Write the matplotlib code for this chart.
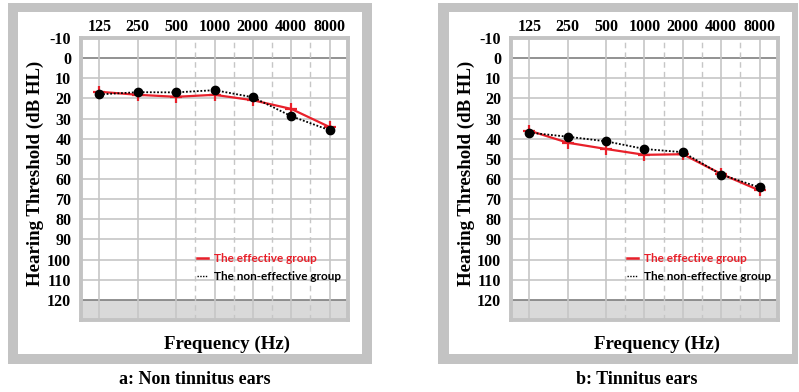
import matplotlib
matplotlib.use("Agg")
import matplotlib.pyplot as plt
from matplotlib.patches import Rectangle

freq_labels = ["125", "250", "500", "1000", "2000", "4000", "8000"]
db_ticks = [-10, 0, 10, 20, 30, 40, 50, 60, 70, 80, 90, 100, 110, 120]

a_effective = [16.7, 18.2, 19.2, 18.2, 20.9, 25.2, 34.2]
a_noneffective = [18.0, 16.9, 17.0, 15.9, 19.4, 28.8, 35.8]
b_effective = [36.0, 42.0, 45.1, 48.0, 47.7, 57.5, 65.7]
b_noneffective = [37.0, 39.0, 41.3, 45.1, 46.7, 57.8, 64.2]

W, H = 799, 392
fig = plt.figure(figsize=(W / 100, H / 100), dpi=100)
fig.patch.set_facecolor("white")

SERIF = ["Liberation Serif", "DejaVu Serif"]
SANS = ["Lato", "DejaVu Sans"]


def frect(x0, y0, x1, y1, color, z=-5):
    fig.patches.append(Rectangle((x0 / W, 1 - y1 / H), (x1 - x0) / W, (y1 - y0) / H,
                                 transform=fig.transFigure, facecolor=color,
                                 edgecolor="none", zorder=z))


def panel(x0, x1, outer, inner, eff, noneff, ylab_x, xlab_x, caption, cap_x, leg_x):
    frect(*outer, "#c3c3c3", -6)
    frect(*inner, "white", -5)
    top, bot = 38, 320
    ax = fig.add_axes([x0 / W, 1 - bot / H, (x1 - x0) / W, (bot - top) / H])
    ax.set_zorder(5)
    ax.set_facecolor("white")
    ax.set_xlim(-0.48, 6.48)
    ax.set_ylim(130, -10)
    ax.axhspan(120, 130, color="#d9d9d9", zorder=0)
    for y in db_ticks:
        c = "#7f7f7f" if y in (0, 120) else "#c6c6c6"
        ax.axhline(y, color=c, lw=1.2, zorder=1)
    for i in range(len(freq_labels)):
        ax.axvline(i, color="#c6c6c6", lw=1.2, zorder=1)
    for xd in [2.5, 3.5, 4.5, 5.5]:
        ax.axvline(xd, color="#c6c6c6", lw=1.0, ls=(0, (4, 3)), zorder=1)
    for s in ax.spines.values():
        s.set_color("#c3c3c3")
        s.set_linewidth(2.8)
    xs = list(range(len(freq_labels)))
    ax.plot(xs, eff, color="#e8202a", lw=1.6, marker="+", ms=8, mew=1.6, zorder=3)
    ax.plot(xs, noneff, color="black", lw=1.3, ls=(0, (1, 1)), marker="o", ms=6, zorder=4)
    ax.set_xticks(xs)
    ax.set_xticklabels(freq_labels, fontfamily=SERIF, fontweight="bold", fontsize=11.5)
    ax.xaxis.tick_top()
    ax.set_yticks(db_ticks)
    ax.set_yticklabels([str(v) for v in db_ticks], fontfamily=SERIF, fontweight="bold", fontsize=11.5)
    ax.tick_params(axis="y", length=0, pad=7)
    ax.tick_params(axis="x", length=0, pad=2)
    # labels
    fig.text(ylab_x / W, 1 - 173 / H, "Hearing Threshold (dB HL)", rotation=90,
             ha="center", va="center", fontfamily=SERIF, fontweight="bold", fontsize=13.6, zorder=10)
    fig.text(xlab_x / W, 1 - 344 / H, "Frequency (Hz)", ha="center", va="center",
             fontfamily=SERIF, fontweight="bold", fontsize=13.6, zorder=10)
    fig.text(cap_x / W, 1 - 380 / H, caption, ha="center", va="center",
             fontfamily=SERIF, fontweight="bold", fontsize=13, zorder=10)
    # legend
    l1 = plt.Line2D([leg_x / W, (leg_x + 11) / W], [1 - 258 / H, 1 - 258 / H],
                    transform=fig.transFigure, color="#e8202a", lw=1.8, zorder=10)
    l2 = plt.Line2D([leg_x / W, (leg_x + 11) / W], [1 - 276 / H, 1 - 276 / H],
                    transform=fig.transFigure, color="black", lw=1.0, ls=(0, (1, 1)), zorder=10)
    fig.lines.extend([l1, l2])
    fig.text((leg_x + 17) / W, 1 - 258 / H, "The effective group", ha="left", va="center",
             fontfamily=SANS, fontweight="bold", fontsize=8.5, color="#e8202a", zorder=10)
    fig.text((leg_x + 17) / W, 1 - 276 / H, "The non-effective group", ha="left", va="center",
             fontfamily=SANS, fontweight="bold", fontsize=8.5, color="black", zorder=10)


panel(81, 348, (8, 3, 372, 364), (18, 12, 362, 354), a_effective, a_noneffective,
      35, 227, "a: Non tinnitus ears", 195, 197)
panel(511, 778, (438, 3, 798, 364), (449, 12, 792, 354), b_effective, b_noneffective,
      466, 657, "b: Tinnitus ears", 637, 627)

fig.savefig("out.png", dpi=100, facecolor="white")
